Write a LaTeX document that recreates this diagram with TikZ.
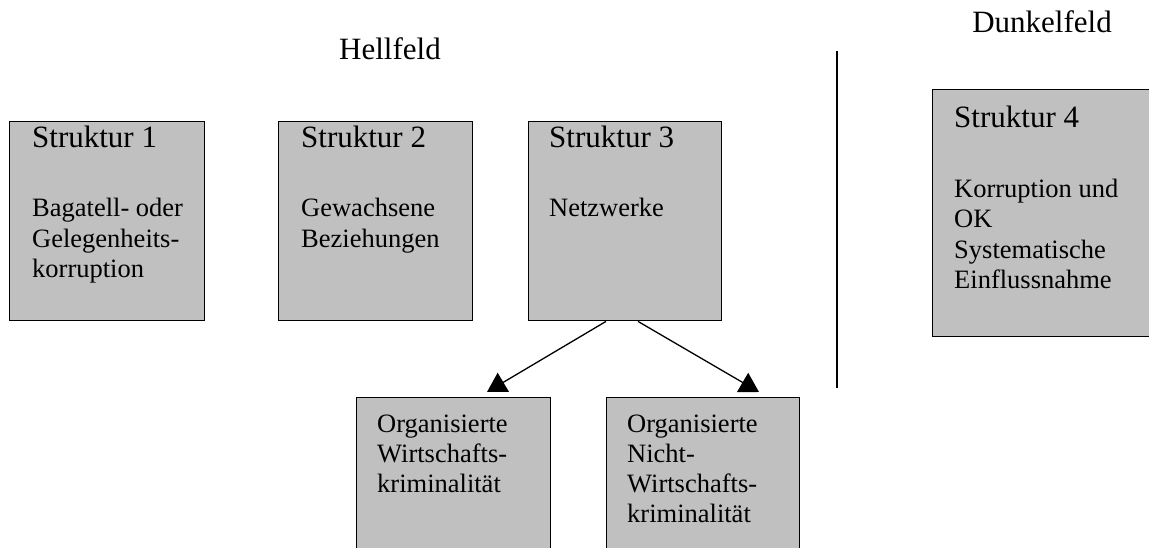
\documentclass[tikz,border=0pt]{standalone}
\usepackage{fontspec}
\setmainfont{Liberation Serif}
\usetikzlibrary{arrows.meta,calc}
\definecolor{boxgray}{HTML}{C0C0C0}
\tikzset{
  box/.style={draw=black, fill=boxgray, line width=1.4pt, inner sep=0pt, anchor=north west},
  ttl/.style={anchor=base west, inner sep=0pt, font=\fontsize{31}{36}\selectfont},
  body/.style={anchor=base west, inner sep=0pt, align=left, font=\fontsize{26.5}{30.3}\selectfont},
  head/.style={anchor=base, inner sep=0pt, font=\fontsize{31}{36}\selectfont},
  conn/.style={line width=1.3pt, -{Triangle[length=19pt,width=22pt]}}
}
\begin{document}
\begin{tikzpicture}[x=1pt,y=-1pt]
\useasboundingbox (0,0) rectangle (1149,548);
\clip (0,0) rectangle (1149,548);
% headings
\node[head] (hell) at (390,60) {Hellfeld};
\node[head] (dunkel) at (1042,33) {Dunkelfeld};
% separator
\coordinate (sepTop) at (837,51);
\coordinate (sepBot) at (837,388);
\draw[line width=1.4pt] (sepTop) -- (sepBot);
% boxes
\node[box, minimum width=195pt, minimum height=199pt] (s1) at (9,121) {};
\node[box, minimum width=194pt, minimum height=199pt] (s2) at (278,121) {};
\node[box, minimum width=193pt, minimum height=199pt] (s3) at (528,121) {};
\node[box, minimum width=217pt, minimum height=247pt] (s4) at (932,89) {};
\node[box, minimum width=194pt, minimum height=173pt] (o1) at (356,397) {};
\node[box, minimum width=193pt, minimum height=173pt] (o2) at (606,397) {};
% texts (base anchor = baseline of last line)
\node[ttl] (s1t) at (32,148) {Struktur 1};
\node[body] (s1b) at (32,277.6) {Bagatell- oder\\Gelegenheits-\\korruption};
\node[ttl] (s2t) at (301,148) {Struktur 2};
\node[body] (s2b) at (301,247.3) {Gewachsene\\Beziehungen};
\node[ttl] (s3t) at (549,148) {Struktur 3};
\node[body] (s3b) at (549,217) {Netzwerke};
\node[ttl] (s4t) at (954,128) {Struktur 4};
\node[body] (s4b) at (954,288.5) {Korruption und\\OK\\Systematische\\Einflussnahme};
\node[body] (o1b) at (377,492.6) {Organisierte\\Wirtschafts-\\kriminalität};
\node[body] (o2b) at (627,522.9) {Organisierte\\Nicht-\\Wirtschafts-\\kriminalität};
% connectors
\coordinate (a1) at ($(s3.south west)+(78,0)$);
\coordinate (a2) at ($(s3.south west)+(110,0)$);
\coordinate (t1) at ($(o1.north west)+(131,-5)$);
\coordinate (t2) at ($(o2.north west)+(153,-5)$);
\draw[conn] (a1) -- (t1);
\draw[conn] (a2) -- (t2);
\end{tikzpicture}
\end{document}
